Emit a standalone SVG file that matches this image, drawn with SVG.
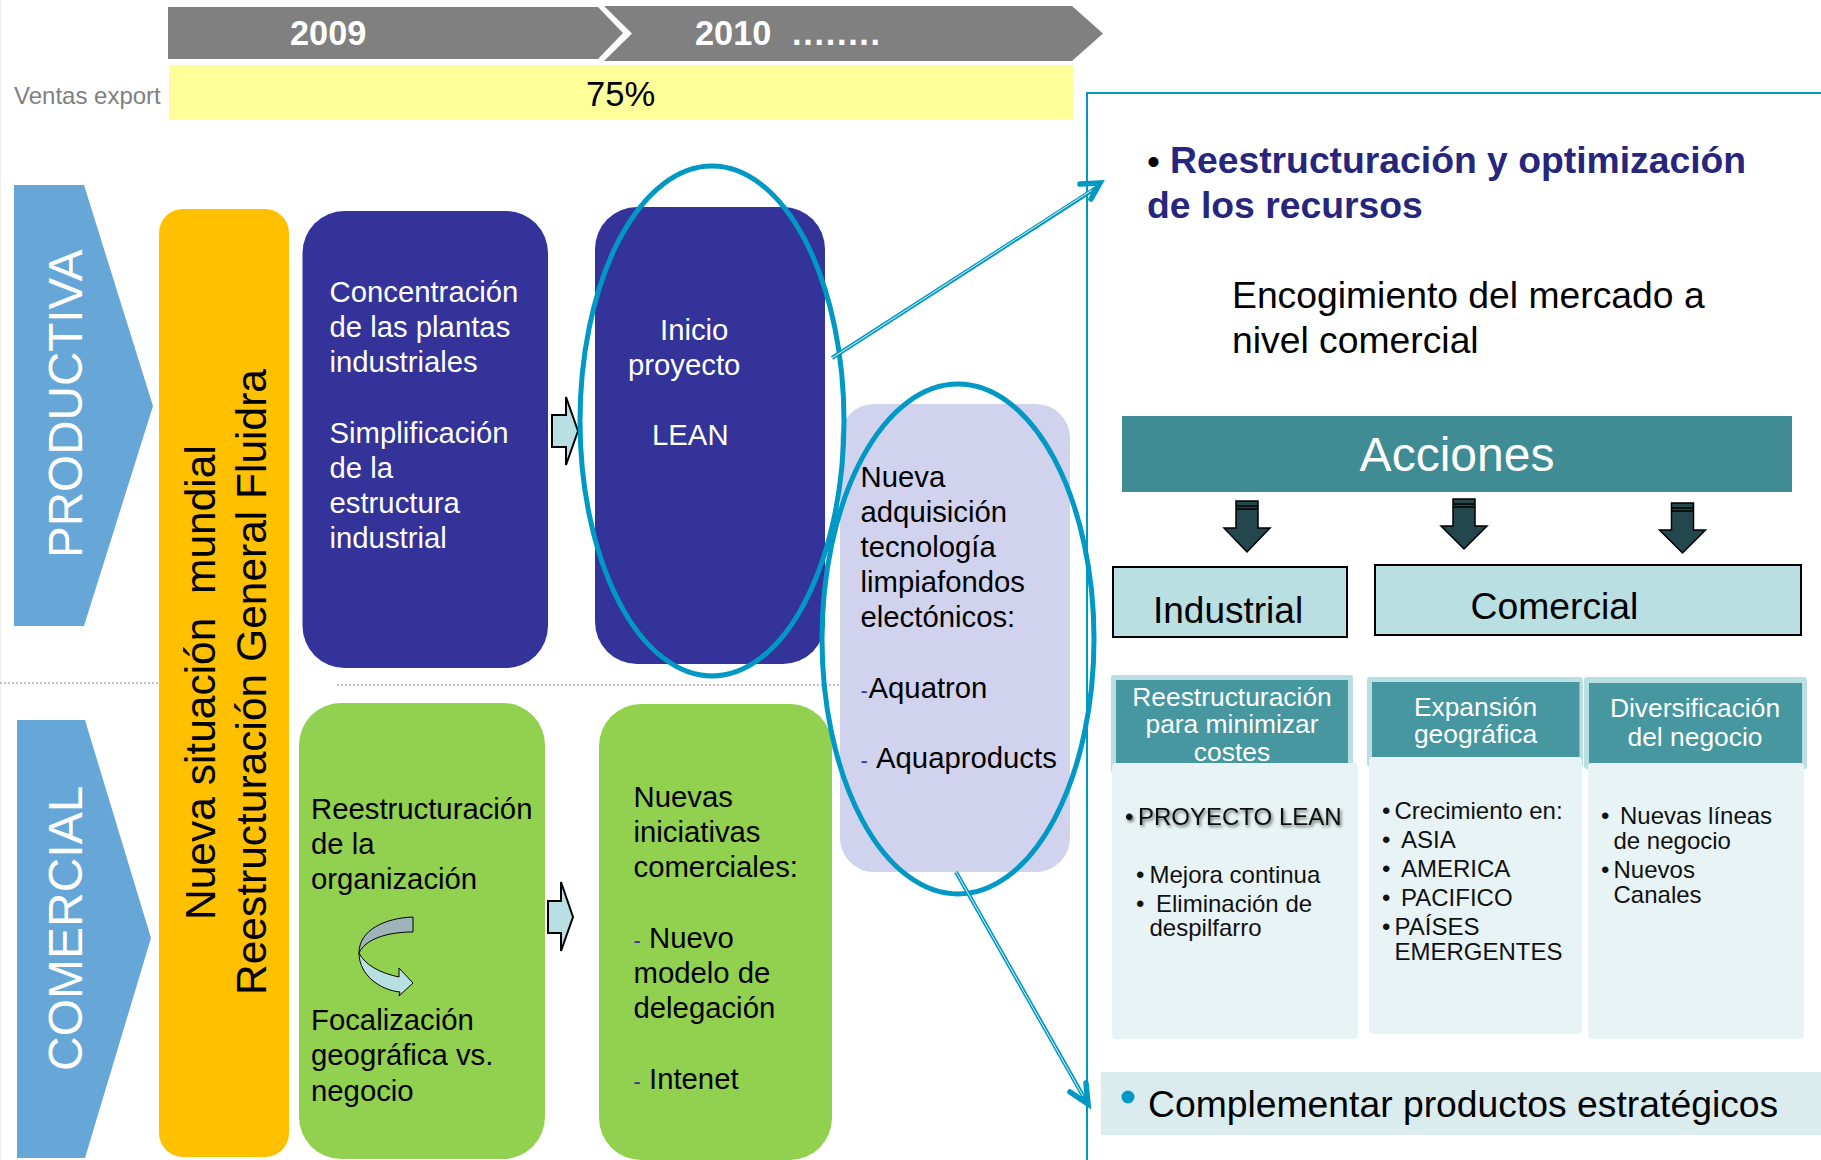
<svg xmlns="http://www.w3.org/2000/svg" width="1821" height="1160" viewBox="0 0 1821 1160">
<style>
text{font-family:"Liberation Sans",Arial,sans-serif}
.w29{fill:#fff;font-size:29.3px}
.k29{fill:#000;font-size:29.3px}
.hd{fill:#fff;font-size:26.4px;text-anchor:middle}
.li{fill:#111;font-size:24px}
.yr{fill:#fff;font-size:34.3px;font-weight:bold}
.big{fill:#000;font-size:37.3px}
.ti{fill:#26267c;font-size:37.3px;font-weight:bold}
.side{fill:#fff;font-size:48px}
.or{fill:#000;font-size:42.5px}
.ell{fill:none;stroke:#0098c4;stroke-width:5}
.da{fill:#24474d;stroke:#000;stroke-width:1.5}
.ba{fill:#b9dfe2;stroke:#000;stroke-width:2}
.dash{fill:#333399;font-size:22px}
.lnk{fill:none;stroke:#0098c4;stroke-width:4}
.lni{fill:none;stroke:#fff;stroke-width:.9}
.hdk{fill:none;stroke:#0098c4;stroke-width:5.500;stroke-linecap:round;stroke-linejoin:miter}
</style>
<defs>
<filter id="sh" x="-5%" y="-20%" width="115%" height="160%"><feDropShadow dx="1.5" dy="2" stdDeviation="1.5" flood-color="#000" flood-opacity=".55"/></filter>
</defs>
<rect width="1821" height="1160" fill="#fff"/>
<path d="M0.5 0V1160" stroke="#ececec"/>
<g id="timeline">
<path d="M168 7H598L623 33L598 59H168Z" fill="#808080"/>
<path d="M604 6H1072L1103 33.500L1072 61H604L632 33.500Z" fill="#808080"/>
<text class="yr" x="290" y="45">2009</text>
<text class="yr" x="695" y="45">2010</text>
<text class="yr" x="792" y="45" letter-spacing="1.7">........</text>
</g>
<g id="ventas">
<text x="14" y="104" font-size="24" fill="#808080">Ventas export</text>
<rect x="169" y="65" width="904" height="55" fill="#ffff99"/>
<text x="586" y="106" font-size="34.600" fill="#000">75%</text>
</g>
<path id="sep-left" d="M0 683H158" stroke="#aaa" stroke-width="1.500" stroke-dasharray="2 2" fill="none"/>
<path id="sep-right" d="M337 685H841" stroke="#aaa" stroke-width="1.500" stroke-dasharray="2 2" fill="none"/>
<g id="productiva">
<path d="M14 185H84L153 406L84 626H14Z" fill="#67a7d8"/>
<text class="side" style="font-size:47.6px" transform="translate(82 558) rotate(-90)">PRODUCTIVA</text>
</g>
<g id="comercial-side">
<path d="M17 720H85L151 938L85 1158H17Z" fill="#67a7d8"/>
<text class="side" transform="translate(82 1071) rotate(-90)">COMERCIAL</text>
</g>
<g id="situacion">
<rect x="159" y="209" width="130" height="948" rx="24" fill="#ffc000"/>
<text class="or" transform="translate(215 920) rotate(-90)" xml:space="preserve">Nueva situación  mundial</text>
<text class="or" transform="translate(266 995) rotate(-90)">Reestructuración General Fluidra</text>
</g>
<g id="concentracion">
<rect x="302.500" y="211" width="245.500" height="457" rx="42" fill="#333399"/>
<text class="w29" x="329.500" y="302">Concentración</text>
<text class="w29" x="329.500" y="337">de las plantas</text>
<text class="w29" x="329.500" y="372">industriales</text>
<text class="w29" x="329.500" y="443">Simplificación</text>
<text class="w29" x="329.500" y="478">de la</text>
<text class="w29" x="329.500" y="513">estructura</text>
<text class="w29" x="329.500" y="548">industrial</text>
</g>
<g id="arrow-top"><path class="ba" d="M552 415H566V397L578 431L566 465V447H552Z"/></g>
<g id="lean">
<rect x="595" y="207" width="230" height="457" rx="42" fill="#333399"/>
<text class="w29" x="660" y="340">Inicio</text>
<text class="w29" x="628" y="375">proyecto</text>
<text class="w29" x="652" y="445">LEAN</text>
</g>
<g id="reestructuracion-org">
<rect x="299" y="703" width="246" height="456" rx="42" fill="#92d050"/>
<text class="k29" x="311" y="819">Reestructuración</text>
<text class="k29" x="311" y="854">de la</text>
<text class="k29" x="311" y="889">organización</text>
<text class="k29" x="311" y="1030">Focalización</text>
<text class="k29" x="311" y="1065">geográfica vs.</text>
<text class="k29" x="311" y="1101">negocio</text>
<path d="M413 917C385 918 359 930 359 953C365 940 385 932 413 932Z" fill="#9db4ba" stroke="#000" stroke-width="1"/>
<path d="M359 953C359 975 380 990 400 992L399 996L413 983L399 968L399 977C380 973 365 965 359 953Z" fill="#b9dfe2" stroke="#000" stroke-width="1"/>
</g>
<g id="arrow-bottom"><path class="ba" d="M548 901H561V882L573 917L561 951V933H548Z"/></g>
<g id="iniciativas">
<rect x="599" y="704" width="233" height="456" rx="42" fill="#92d050"/>
<text class="k29" x="633.500" y="807">Nuevas</text>
<text class="k29" x="633.500" y="842">iniciativas</text>
<text class="k29" x="633.500" y="877">comerciales:</text>
<text class="k29" x="633.500" y="948"><tspan class="dash">-</tspan><tspan x="649">Nuevo</tspan></text>
<text class="k29" x="633.500" y="983">modelo de</text>
<text class="k29" x="633.500" y="1018">delegación</text>
<text class="k29" x="633.500" y="1089"><tspan class="dash">-</tspan><tspan x="649">Intenet</tspan></text>
</g>
<g id="adquisicion">
<rect x="840" y="404" width="230" height="468" rx="34" fill="#d1d3ee"/>
<text class="k29" x="860.500" y="487">Nueva</text>
<text class="k29" x="860.500" y="522">adquisición</text>
<text class="k29" x="860.500" y="557">tecnología</text>
<text class="k29" x="860.500" y="592">limpiafondos</text>
<text class="k29" x="860.500" y="627">electónicos:</text>
<text class="k29" x="860.500" y="698"><tspan class="dash">-</tspan><tspan x="868.500">Aquatron</tspan></text>
<text class="k29" x="860.500" y="768"><tspan class="dash">-</tspan><tspan x="876">Aquaproducts</tspan></text>
</g>
<g id="ellipses">
<ellipse class="ell" cx="712" cy="421" rx="132" ry="255"/>
<ellipse class="ell" cx="958" cy="639" rx="136" ry="255"/>
</g>
<g id="panel">
<path d="M1821 93H1087V1160" fill="none" stroke="#0098c4" stroke-width="2"/>
<text x="1147" y="174" font-size="37" fill="#000">•</text>
<text class="ti" x="1170" y="173">Reestructuración y optimización</text>
<text class="ti" x="1147" y="218">de los recursos</text>
<text class="big" x="1232" y="308">Encogimiento del mercado a</text>
<text class="big" x="1232" y="353">nivel comercial</text>
</g>
<g id="acciones">
<rect x="1122" y="416" width="670" height="76" fill="#3f8c94"/>
<text x="1457" y="471" font-size="48" fill="#fff" text-anchor="middle">Acciones</text>
</g>
<g id="down-arrows">
<path class="da" d="M1236 501H1258V528H1270L1247 552L1224 528H1236Z"/><path d="M1236 506H1258M1236 509H1258" stroke="#000" stroke-width="1.500"/>
<path class="da" d="M1453 499H1475V526H1487L1464 549L1441 526H1453Z"/><path d="M1453 504H1475M1453 507H1475" stroke="#000" stroke-width="1.500"/>
<path class="da" d="M1671.500 503H1693.500V530H1705.500L1682.500 553L1659.500 530H1671.500Z"/><path d="M1671.500 508H1693.500M1671.500 511H1693.500" stroke="#000" stroke-width="1.500"/>
</g>
<g id="industrial">
<rect x="1113" y="567" width="234" height="70" fill="#b9dfe2" stroke="#000" stroke-width="2"/>
<text x="1153" y="623" font-size="37" fill="#000">Industrial</text>
</g>
<g id="comercial">
<rect x="1375" y="565" width="426" height="70" fill="#b9dfe2" stroke="#000" stroke-width="2"/>
<text x="1470.500" y="619" font-size="37.300" fill="#000">Comercial</text>
</g>
<g id="col-1">
<rect x="1111" y="675" width="242" height="98" rx="3" fill="#b9dfe2"/>
<rect x="1116" y="680" width="232" height="83" fill="#46979f"/>
<rect x="1112" y="763" width="246" height="276" rx="4" fill="#e7f3f4"/>
<text class="hd" x="1232" y="706">Reestructuración</text>
<text class="hd" x="1232" y="733">para minimizar</text>
<text class="hd" x="1232" y="761">costes</text>
<g filter="url(#sh)"><text class="li" x="1125" y="825">•</text><text class="li" x="1138" y="825">PROYECTO LEAN</text></g>
<text class="li" x="1136" y="883">•</text><text class="li" x="1149.500" y="883">Mejora continua</text>
<text class="li" x="1136" y="912">•</text><text class="li" x="1156" y="912">Eliminación de</text>
<text class="li" x="1149.500" y="936">despilfarro</text>
</g>
<g id="col-2">
<rect x="1367" y="677" width="216" height="90" rx="3" fill="#b9dfe2"/>
<rect x="1372" y="682" width="207.500" height="75" fill="#46979f"/>
<rect x="1369" y="757" width="213" height="277" rx="4" fill="#e7f3f4"/>
<text class="hd" x="1475.500" y="716">Expansión</text>
<text class="hd" x="1475.500" y="743">geográfica</text>
<text class="li" x="1382" y="819">•</text><text class="li" x="1394.500" y="819">Crecimiento en:</text>
<text class="li" x="1382" y="848">•</text><text class="li" x="1401" y="848">ASIA</text>
<text class="li" x="1382" y="877">•</text><text class="li" x="1401" y="877">AMERICA</text>
<text class="li" x="1382" y="906">•</text><text class="li" x="1401" y="906">PACIFICO</text>
<text class="li" x="1382" y="935">•</text><text class="li" x="1394.500" y="935">PAÍSES</text>
<text class="li" x="1394.500" y="960">EMERGENTES</text>
</g>
<g id="col-3">
<rect x="1584" y="677" width="223" height="92" rx="3" fill="#b9dfe2"/>
<rect x="1589" y="683" width="213" height="80" fill="#46979f"/>
<rect x="1588" y="763" width="216" height="276" rx="4" fill="#e7f3f4"/>
<text class="hd" x="1695" y="717">Diversificación</text>
<text class="hd" x="1695" y="746">del negocio</text>
<text class="li" x="1601" y="824">•</text><text class="li" x="1620" y="824">Nuevas líneas</text>
<text class="li" x="1613.500" y="849">de negocio</text>
<text class="li" x="1601" y="878">•</text><text class="li" x="1613.500" y="878">Nuevos</text>
<text class="li" x="1613.500" y="903">Canales</text>
</g>
<g id="complementar">
<rect x="1101" y="1072" width="720" height="63" fill="#daecee"/>
<circle cx="1128" cy="1097" r="6.500" fill="#0098c4"/>
<text class="big" x="1148" y="1117">Complementar productos estratégicos</text>
</g>
<g id="connectors">
<path class="lnk" d="M832 358L1096 188"/><path class="lni" d="M832 358L1092 190"/>
<path class="hdk" d="M1080 184L1100 183L1091 199"/>
<path class="lnk" d="M956 872L1086 1101"/><path class="lni" d="M956 872L1083 1096"/>
<path class="hdk" d="M1070 1092L1088 1104L1086 1083"/>
</g>
</svg>
